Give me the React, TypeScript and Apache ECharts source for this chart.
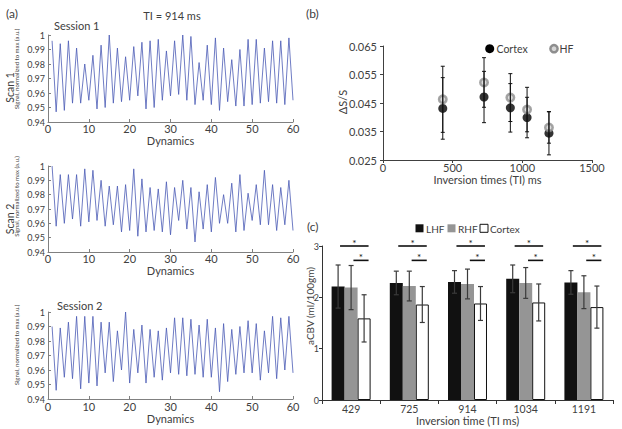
import React, { useEffect, useRef } from "react";
import * as echarts from "echarts";

// ---- Panel (a): signal time courses (dynamics 1..60) ----
const scan1 = [
  0.996, 0.947, 0.994, 0.948, 0.996, 0.953, 0.991, 0.953, 0.980, 0.955,
  0.986, 0.949, 0.993, 0.950, 1.000, 0.953, 0.991, 0.954, 0.985, 0.955,
  0.992, 0.958, 0.995, 0.949, 0.996, 0.950, 0.997, 0.955, 0.989, 0.958,
  0.996, 0.959, 1.000, 0.955, 0.999, 0.952, 0.981, 0.955, 0.993, 0.952,
  0.998, 0.948, 0.991, 0.954, 0.983, 0.951, 0.990, 0.951, 0.997, 0.952,
  0.997, 0.953, 0.991, 0.954, 0.996, 0.953, 0.996, 0.952, 0.998, 0.955,
];
const scan2 = [
  1.000, 0.958, 0.994, 0.960, 0.994, 0.963, 0.994, 0.958, 0.998, 0.961,
  0.997, 0.962, 0.990, 0.958, 0.986, 0.959, 0.986, 0.954, 0.987, 0.955,
  0.998, 0.951, 0.991, 0.954, 0.985, 0.955, 0.984, 0.954, 0.989, 0.952,
  0.985, 0.962, 0.990, 0.956, 0.985, 0.947, 0.982, 0.956, 0.987, 0.954,
  0.992, 0.960, 0.980, 0.960, 0.988, 0.954, 0.994, 0.955, 0.981, 0.962,
  0.987, 0.959, 0.997, 0.959, 0.987, 0.955, 0.985, 0.959, 0.990, 0.955,
];
const scan3 = [
  0.990, 0.946, 0.989, 0.955, 0.993, 0.954, 0.997, 0.947, 0.997, 0.951,
  0.997, 0.949, 0.993, 0.958, 0.993, 0.952, 0.987, 0.960, 1.000, 0.951,
  0.988, 0.958, 0.991, 0.951, 0.988, 0.955, 0.987, 0.953, 0.989, 0.958,
  0.996, 0.957, 0.996, 0.956, 0.995, 0.957, 0.991, 0.955, 0.995, 0.955,
  0.989, 0.945, 0.992, 0.952, 0.988, 0.957, 0.990, 0.958, 0.994, 0.958,
  0.992, 0.953, 0.987, 0.958, 0.997, 0.954, 0.996, 0.960, 0.997, 0.958,
];

// ---- Panel (b): dS/S vs inversion time ----
const tiValues = [429, 725, 914, 1034, 1191];
const cortexDS = [0.0431, 0.0471, 0.0433, 0.0399, 0.0344];
const cortexDSErr = [0.0108, 0.009, 0.0085, 0.0071, 0.0076];
const hfDS = [0.0463, 0.0522, 0.0469, 0.0427, 0.0364];
const hfDSErr = [0.0116, 0.0087, 0.0084, 0.0078, 0.0055];

// ---- Panel (c): aCBV bars ----
const tiCategories = ["429", "725", "914", "1034", "1191"];
const lhfCBV = [2.21, 2.28, 2.3, 2.36, 2.29];
const lhfCBVErr = [0.42, 0.23, 0.22, 0.27, 0.23];
const rhfCBV = [2.19, 2.22, 2.26, 2.28, 2.1];
const rhfCBVErr = [0.43, 0.29, 0.29, 0.3, 0.32];
const cortexCBV = [1.59, 1.86, 1.88, 1.9, 1.81];
const cortexCBVErr = [0.46, 0.35, 0.33, 0.36, 0.41];

const FONT = "Lato, 'Open Sans', sans-serif";
const TXT = "#404040";

const lineGrids = [
  { left: 48, top: 35, width: 245, height: 87 },
  { left: 48, top: 166, width: 245, height: 86 },
  { left: 48, top: 312, width: 245, height: 87 },
];
const xLabelMargins = [1, 1, 2];
const xNameGaps = [12, 10, 10.5];

function txt(text: string, x: number, y: number, size: number, opts: any = {}) {
  return {
    type: "text",
    x,
    y,
    rotation: opts.rotation || 0,
    silent: true,
    style: {
      text,
      fontSize: size,
      fontFamily: FONT,
      fill: opts.fill || TXT,
      textAlign: opts.align || "left",
      align: opts.align || "left",
      textVerticalAlign: "middle",
      verticalAlign: "middle",
    },
  };
}

export default function App() {
  const ref = useRef<HTMLDivElement>(null);

  useEffect(() => {
    document.body.style.margin = "0";
    if (!ref.current) return;
    const chart = echarts.init(ref.current, undefined, { renderer: "svg" });

    const scans = [scan1, scan2, scan3];
    const xAxes: any[] = [];
    const yAxes: any[] = [];
    const series: any[] = [];

    scans.forEach((s, i) => {
      xAxes.push({
        type: "value",
        gridIndex: i,
        min: 0,
        max: 60,
        interval: 10,
        axisLine: { show: true, lineStyle: { color: "#808080", width: 1 } },
        axisTick: { show: true, inside: true, length: 3, lineStyle: { color: "#808080" } },
        axisLabel: { fontSize: 11, color: TXT, fontFamily: FONT, margin: xLabelMargins[i] },
        splitLine: { show: false },
        name: "Dynamics",
        nameLocation: "middle",
        nameGap: xNameGaps[i],
        nameTextStyle: { fontSize: 11, color: TXT, fontFamily: FONT },
      });
      yAxes.push({
        type: "value",
        gridIndex: i,
        min: 0.94,
        max: 1,
        interval: 0.01,
        axisLine: { show: true, lineStyle: { color: "#808080", width: 1 } },
        axisTick: { show: true, inside: true, length: 3, lineStyle: { color: "#808080" } },
        axisLabel: {
          fontSize: 9,
          color: TXT,
          fontFamily: FONT,
          margin: 3,
          formatter: (v: number) => String(Math.round(v * 100) / 100),
        },
        splitLine: { show: false },
      });
      series.push({
        type: "line",
        xAxisIndex: i,
        yAxisIndex: i,
        data: s.map((v, k) => [k + 1, v]),
        showSymbol: false,
        symbol: "none",
        lineStyle: { color: "#4a5bb5", width: 0.8 },
      });
    });

    // Panel (b)
    xAxes.push({
      type: "value",
      gridIndex: 3,
      min: 0,
      max: 1500,
      interval: 500,
      axisLine: { show: true, lineStyle: { color: "#404040" } },
      axisTick: { show: true, length: 3, lineStyle: { color: "#404040" } },
      axisLabel: { fontSize: 11, color: TXT, fontFamily: FONT, margin: 2, formatter: (v: number) => String(v) },
      splitLine: { show: false },
      name: "Inversion times (TI) ms",
      nameLocation: "middle",
      nameGap: 12,
      nameTextStyle: { fontSize: 11, color: TXT, fontFamily: FONT },
    });
    yAxes.push({
      type: "value",
      gridIndex: 3,
      min: 0.025,
      max: 0.065,
      interval: 0.01,
      axisLine: { show: true, lineStyle: { color: "#404040" } },
      axisTick: { show: true, length: 3, lineStyle: { color: "#404040" } },
      axisLabel: {
        fontSize: 11,
        color: TXT,
        fontFamily: FONT,
        margin: 6,
        formatter: (v: number) => v.toFixed(3),
      },
      splitLine: { show: false },
    });

    const errBarRender = (color: string, lw: number, cap: number) => (params: any, api: any) => {
      const x = api.value(0);
      const lo = api.coord([x, api.value(1)]);
      const hi = api.coord([x, api.value(2)]);
      const st = { stroke: color, lineWidth: lw };
      return {
        type: "group",
        children: [
          { type: "line", shape: { x1: lo[0], y1: lo[1], x2: hi[0], y2: hi[1] }, style: st },
          { type: "line", shape: { x1: lo[0] - cap, y1: lo[1], x2: lo[0] + cap, y2: lo[1] }, style: st },
          { type: "line", shape: { x1: hi[0] - cap, y1: hi[1], x2: hi[0] + cap, y2: hi[1] }, style: st },
        ],
      };
    };

    series.push({
      type: "scatter",
      name: "Cortex",
      xAxisIndex: 3,
      yAxisIndex: 3,
      data: tiValues.map((t, k) => [t, cortexDS[k]]),
      symbol: "circle",
      symbolSize: 9,
      itemStyle: { color: "#000" },
      z: 3,
    });
    series.push({
      type: "scatter",
      name: "HF",
      xAxisIndex: 3,
      yAxisIndex: 3,
      data: tiValues.map((t, k) => [t, hfDS[k]]),
      symbol: "circle",
      symbolSize: 7.5,
      itemStyle: { color: "#d6d6d6", borderColor: "#8e8e8e", borderWidth: 2.5 },
      z: 4,
    });
    series.push({
      type: "custom",
      xAxisIndex: 3,
      yAxisIndex: 3,
      z: 5,
      data: [
        ...tiValues.map((t, k) => [t, cortexDS[k] - cortexDSErr[k], cortexDS[k] + cortexDSErr[k]]),
        ...tiValues.map((t, k) => [t, hfDS[k] - hfDSErr[k], hfDS[k] + hfDSErr[k]]),
      ],
      renderItem: errBarRender("#111", 1, 2),
      clip: false,
    });

    // Panel (c)
    xAxes.push({
      type: "category",
      gridIndex: 4,
      data: tiCategories,
      axisLine: { show: true, lineStyle: { color: "#333" } },
      axisTick: { show: true, length: 4, lineStyle: { color: "#333" } },
      axisLabel: { fontSize: 10.5, color: TXT, fontFamily: FONT, margin: 3 },
      name: "Inversion time (TI ms)",
      nameLocation: "middle",
      nameGap: 12,
      nameTextStyle: { fontSize: 11, color: TXT, fontFamily: FONT },
    });
    yAxes.push({
      type: "value",
      gridIndex: 4,
      min: 0,
      max: 3,
      interval: 1,
      axisLine: { show: true, lineStyle: { color: "#333" } },
      axisTick: { show: true, length: 3, lineStyle: { color: "#333" } },
      axisLabel: { fontSize: 9, color: TXT, fontFamily: FONT, margin: 3 },
      splitLine: { show: false },
    });

    const barSets = [
      { name: "LHF", vals: lhfCBV, errs: lhfCBVErr, style: { color: "#111" } },
      { name: "RHF", vals: rhfCBV, errs: rhfCBVErr, style: { color: "#959595" } },
      { name: "Cortex", vals: cortexCBV, errs: cortexCBVErr, style: { color: "#fff", borderColor: "#111", borderWidth: 1 } },
    ];
    barSets.forEach((b) => {
      series.push({
        type: "bar",
        name: b.name + " CBV",
        xAxisIndex: 4,
        yAxisIndex: 4,
        data: b.vals,
        barGap: "0%",
        barCategoryGap: "33%",
        itemStyle: b.style,
      });
    });
    const cbvErrData: any[] = [];
    barSets.forEach((b, si) => {
      b.vals.forEach((v, k) => cbvErrData.push([k, v - b.errs[k], v + b.errs[k], si]));
    });
    series.push({
      type: "custom",
      xAxisIndex: 4,
      yAxisIndex: 4,
      z: 5,
      clip: false,
      data: cbvErrData,
      renderItem: (params: any, api: any) => {
        const idx = api.value(0);
        const band = api.size([1, 0])[0];
        const w = (band * 0.67) / 3;
        const lo = api.coord([idx, api.value(1)]);
        const hi = api.coord([idx, api.value(2)]);
        const x = lo[0] + (api.value(3) - 1) * w;
        const st = { stroke: "#3a3a3a", lineWidth: 1.2 };
        return {
          type: "group",
          children: [
            { type: "line", shape: { x1: x, y1: lo[1], x2: x, y2: hi[1] }, style: st },
            { type: "line", shape: { x1: x - 2.5, y1: lo[1], x2: x + 2.5, y2: lo[1] }, style: st },
            { type: "line", shape: { x1: x - 2.5, y1: hi[1], x2: x + 2.5, y2: hi[1] }, style: st },
          ],
        };
      },
    });
    // significance markers
    const sigUpper = 3.0;
    const sigLower = 2.72;
    series.push({
      type: "custom",
      xAxisIndex: 4,
      yAxisIndex: 4,
      z: 6,
      clip: false,
      data: tiCategories.map((c, k) => [k, sigUpper, sigLower]),
      renderItem: (params: any, api: any) => {
        const idx = api.value(0);
        const band = api.size([1, 0])[0];
        const up = api.coord([idx, api.value(1)]);
        const low = api.coord([idx, api.value(2)]);
        const cx = up[0];
        const st = { stroke: "#111", lineWidth: 1.6 };
        const u1 = cx - 0.19 * band, u2 = cx + 0.3 * band;
        const l1 = cx + 0.04 * band, l2 = cx + 0.3 * band;
        const star = (x: number, y: number) => ({
          type: "text",
          x,
          y,
          style: { text: "*", fontSize: 10, fontFamily: FONT, fill: "#111", align: "center", verticalAlign: "middle", textAlign: "center", textVerticalAlign: "middle" },
        });
        return {
          type: "group",
          children: [
            { type: "line", shape: { x1: u1, y1: up[1], x2: u2, y2: up[1] }, style: st },
            { type: "line", shape: { x1: l1, y1: low[1], x2: l2, y2: low[1] }, style: st },
            star((u1 + u2) / 2, up[1] - 3),
            star((l1 + l2) / 2, low[1] - 3),
          ],
        };
      },
    });

    const sigLabel = "Signal, normalized to max (a.u.)";
    const graphic: any[] = [
      txt("(a)", 6, 13, 12),
      txt("TI = 914 ms", 172, 15.5, 11, { align: "center" }),
      txt("Session 1", 54, 25, 11),
      txt("Scan 1", 9.5, 87.5, 10.5, { align: "center", rotation: Math.PI / 2 }),
      txt(sigLabel, 16, 69, 6, { align: "center", rotation: Math.PI / 2 }),
      txt("Scan 2", 9.5, 219, 10.5, { align: "center", rotation: Math.PI / 2 }),
      txt(sigLabel, 16, 196.5, 6, { align: "center", rotation: Math.PI / 2 }),
      txt("Session 2", 57, 305.5, 11),
      txt(sigLabel, 16, 345, 6, { align: "center", rotation: Math.PI / 2 }),
      txt("(b)", 306, 13, 12),
      txt("ΔS/S", 342, 102, 11, { align: "center", rotation: Math.PI / 2 }),
      { type: "circle", shape: { cx: 489.7, cy: 48.7, r: 4.5 }, style: { fill: "#000" }, silent: true },
      txt("Cortex", 496.5, 48.7, 10.5),
      { type: "circle", shape: { cx: 554, cy: 48.7, r: 3.6 }, style: { fill: "#d6d6d6", stroke: "#8e8e8e", lineWidth: 2.5 }, silent: true },
      txt("HF", 559.5, 48.7, 10.5),
      txt("(c)", 307, 226, 12),
      txt("aCBV (ml/100gm)", 309.5, 306, 10, { align: "center", rotation: Math.PI / 2 }),
      { type: "rect", shape: { x: 415.5, y: 224.3, width: 8, height: 8 }, style: { fill: "#111" }, silent: true },
      txt("LHF", 426, 228.5, 10),
      { type: "rect", shape: { x: 447.5, y: 224.3, width: 8, height: 8 }, style: { fill: "#959595" }, silent: true },
      txt("RHF", 458, 228.5, 10),
      { type: "rect", shape: { x: 480, y: 224.3, width: 8, height: 8 }, style: { fill: "#fff", stroke: "#111", lineWidth: 1 }, silent: true },
      txt("Cortex", 490, 228.5, 10),
    ];

    chart.setOption({
      animation: false,
      backgroundColor: "#fff",
      textStyle: { fontFamily: FONT },
      grid: [
        ...lineGrids,
        { left: 383, top: 46, width: 209, height: 114 },
        { left: 322, top: 246, width: 291, height: 154 },
      ],
      xAxis: xAxes,
      yAxis: yAxes,
      series,
      graphic,
    });

    return () => chart.dispose();
  }, []);

  return <div ref={ref} style={{ width: 622, height: 429 }} />;
}
